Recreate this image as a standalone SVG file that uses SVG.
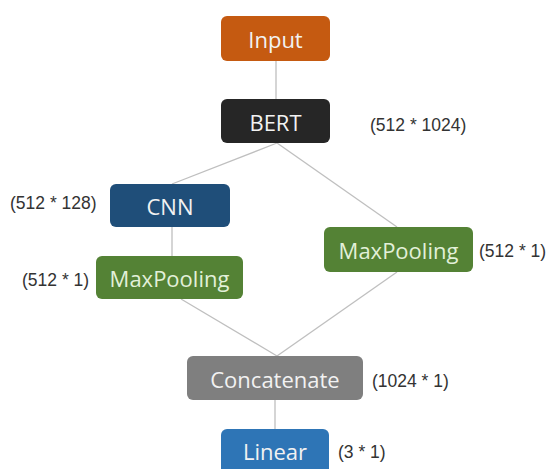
<svg xmlns="http://www.w3.org/2000/svg" width="548" height="469" viewBox="0 0 548 469">
<style>
.box{stroke:none}
.lbl{font-family:"Open Sans","Noto Sans","Liberation Sans",sans-serif;font-size:22px;fill:#F2F2F2;text-anchor:middle;dominant-baseline:central}
.lbl.g{fill:#E2F0D9}
.dim{font-family:"Liberation Sans","Noto Sans",sans-serif;font-size:17.5px;fill:#333333;dominant-baseline:central}
.edge{stroke:#BFBFBF;stroke-width:1.3;fill:none}
</style>
<rect width="548" height="469" fill="#FFFFFF"/>
<g id="connectors">
<line class="edge" x1="276" y1="61" x2="276" y2="99"/>
<line class="edge" x1="277" y1="143" x2="172" y2="184"/>
<line class="edge" x1="277" y1="143" x2="397" y2="227"/>
<line class="edge" x1="172" y1="227" x2="172" y2="256"/>
<line class="edge" x1="181" y1="299" x2="277" y2="356"/>
<line class="edge" x1="397" y1="272" x2="277" y2="356"/>
<line class="edge" x1="275" y1="400" x2="275" y2="429"/>
</g>
<g id="input">
<rect class="box" x="221" y="16" width="109" height="45" rx="6" fill="#C55A11"/>
<text class="lbl" x="275.5" y="39">Input</text>
</g>
<g id="bert">
<rect class="box" x="221" y="99" width="109" height="44" rx="6" fill="#262626"/>
<text class="lbl" x="275.5" y="122">BERT</text>
<text class="dim" x="370" y="125">(512 * 1024)</text>
</g>
<g id="cnn">
<rect class="box" x="110" y="184" width="120" height="43" rx="6" fill="#1F4E79"/>
<text class="lbl" x="170" y="206">CNN</text>
<text class="dim" x="10" y="203">(512 * 128)</text>
</g>
<g id="maxpool-left">
<rect class="box" x="96" y="256" width="147" height="43" rx="6" fill="#548235"/>
<text class="lbl g" x="169.5" y="278">MaxPooling</text>
<text class="dim" x="22" y="280">(512 * 1)</text>
</g>
<g id="maxpool-right">
<rect class="box" x="324" y="227" width="149" height="45" rx="6" fill="#548235"/>
<text class="lbl g" x="398.5" y="250">MaxPooling</text>
<text class="dim" x="479" y="251">(512 * 1)</text>
</g>
<g id="concatenate">
<rect class="box" x="187" y="356" width="176" height="44" rx="6" fill="#7F7F7F"/>
<text class="lbl" x="275" y="379">Concatenate</text>
<text class="dim" x="372" y="381">(1024 * 1)</text>
</g>
<g id="linear">
<rect class="box" x="221" y="429" width="108" height="46" rx="6" fill="#2E75B6"/>
<text class="lbl" x="275" y="451">Linear</text>
<text class="dim" x="338" y="452">(3 * 1)</text>
</g>
</svg>
